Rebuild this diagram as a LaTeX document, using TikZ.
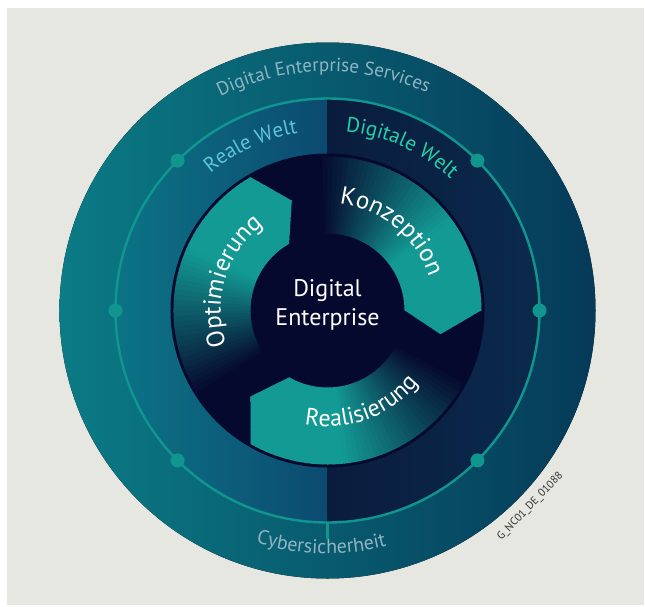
\documentclass[tikz,border=0pt]{standalone}
\usepackage{fontspec}
\setmainfont{PT Sans}
\usetikzlibrary{decorations.text}

\definecolor{paper}{HTML}{E7E7E2}
\definecolor{ringteal}{HTML}{0B7B85}
\definecolor{ringblue}{HTML}{053A58}
\definecolor{realteal}{HTML}{0C7385}
\definecolor{realblue}{HTML}{0C4A70}
\definecolor{digileft}{HTML}{0A1C3E}
\definecolor{digiright}{HTML}{0A2A4C}
\definecolor{deepnavy}{HTML}{06092E}
\definecolor{headteal}{HTML}{139A94}
\definecolor{linkteal}{HTML}{10968F}
\definecolor{servtxt}{HTML}{8FB4C2}
\definecolor{realtxt}{HTML}{5CC4DA}
\definecolor{digitxt}{HTML}{22D2A8}
\definecolor{codegray}{HTML}{333333}

\tikzset{
  dotmark/.style={circle, fill=linkteal, inner sep=0pt, minimum size=14pt},
  arctext/.style={decorate, decoration={text along path, text align=center, text={#1}}},
}

\begin{document}
\begin{tikzpicture}[x=1pt, y=1pt]
\useasboundingbox (-327.5,-295.5) rectangle (317.5,310.5);
\fill[white] (-327.5,-295.5) rectangle (317.5,310.5);
\fill[paper] (-320.5,-294.5) rectangle (316.5,302.5);

% services ring
\fill[left color=ringteal, right color=ringblue] (0,0) circle (268);
% real / digital world
\fill[left color=realteal, right color=realblue] (90:212) arc[start angle=90, end angle=270, radius=212] -- cycle;
\fill[left color=digileft, right color=digiright] (-90:212) arc[start angle=-90, end angle=90, radius=212] -- cycle;
\fill[deepnavy] (0,0) circle (157);

% the three cycle arrows, head at \h
\foreach \h in {0,-120,120}{
  \begin{scope}
    \clip (\h+120:154) arc[start angle=\h+120, end angle=\h, radius=154] -- (\h-12:115.5)
      -- (\h:77) arc[start angle=\h, end angle=\h+120, radius=77] -- (\h+108:115.5) -- cycle;
    \foreach \d in {-14,-12,...,120}{
      \pgfmathsetmacro\pct{max(0,min(100,(92-\d)*100/57))}
      \fill[headteal!\pct!deepnavy] (0,0) -- (\h+\d:160) arc[start angle=\h+\d, end angle=\h+\d+2.5, radius=160] -- cycle;
    }
  \end{scope}
}
\node[circle, fill=deepnavy, inner sep=0pt, minimum size=152pt] (hub) at (0,0) {};
\node[align=center, text=white, font=\fontsize{24}{29}\selectfont] (core) at (0,6) {Digital\\Enterprise};

% ring line with dots
\draw[linkteal, line width=2.4pt] (0,0) circle (212);
\foreach \a in {0,45,135,180,225,315}
  \node[dotmark] (dot\a) at (\a:212) {};
\coordinate (tickTop) at (270:212);
\coordinate (tickEnd) at (270:228);
\draw[linkteal, line width=2.2pt] (tickTop) -- (tickEnd);

% labels on arcs
\path[arctext={|\fontsize{19}{20}\selectfont\color{servtxt}|Digital Enterprise Services}]
  (136:239) arc[start angle=136, end angle=46, radius=239];
\path[arctext={|\fontsize{20}{21}\selectfont\color{servtxt}|Cybersicherheit}]
  (-126.5:243) arc[start angle=-126.5, end angle=-56.5, radius=243];
\path[arctext={|\fontsize{21}{22}\selectfont\color{realtxt}|Reale Welt}]
  (155:180) arc[start angle=155, end angle=75, radius=180];
\path[arctext={|\fontsize{21}{22}\selectfont\color{digitxt}|Digitale Welt}]
  (105.5:180) arc[start angle=105.5, end angle=25.5, radius=180];
\path[arctext={|\fontsize{25}{26}\selectfont\color{white}|Konzeption}]
  (101:107) arc[start angle=101, end angle=1, radius=107];
\path[arctext={|\fontsize{24}{26}\selectfont\color{white}|Realisierung}]
  (-125:116) arc[start angle=-125, end angle=-15, radius=116];
\path[arctext={|\fontsize{25}{26}\selectfont\color{white}|Optimierung}]
  (218:107) arc[start angle=218, end angle=108, radius=107];

\node[rotate=46, text=codegray, font=\fontsize{11}{12}\selectfont] (code) at (-44:282) {G\_NC01\_DE\_01088};
\end{tikzpicture}
\end{document}
